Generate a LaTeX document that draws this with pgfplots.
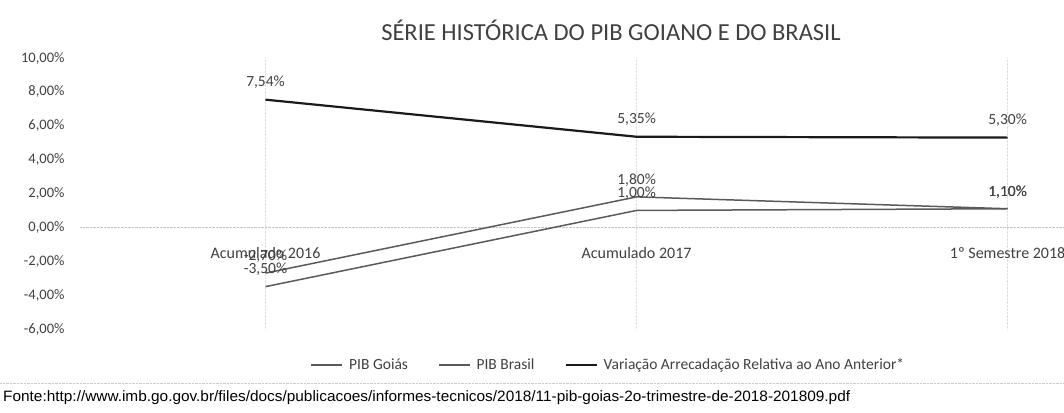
\documentclass[border=0pt]{standalone}
\usepackage{pgfplots}
\pgfplotsset{compat=1.18}
\usepackage{graphicx}
\usepackage{fontspec}
\setmainfont{Carlito}
\newfontfamily\arialfont{Liberation Sans}
\definecolor{txt}{HTML}{404040}
\definecolor{gline}{HTML}{5A5A5A}
\definecolor{bline}{HTML}{1A1A1A}
\begin{document}
\begin{tikzpicture}[x=1pt,y=1pt]
\path[use as bounding box] (0,0) rectangle (1064,412);
\begin{axis}[
  at={(80pt,83pt)}, anchor=south west,
  scale only axis, width=984pt, height=271pt,
  xmin=-0.5, xmax=2.152, ymin=-6, ymax=10,
  axis x line=middle, axis y line=left,
  x axis line style={draw=gray!45, densely dotted, -},
  y axis line style={draw=none},
  major tick length=0pt,
  xtick={0,1,2},
  xticklabels={Acumulado 2016, Acumulado 2017, 1º Semestre 2018},
  xticklabel style={font=\fontsize{16}{18}\selectfont, text=txt, anchor=north, yshift=-16pt, text height=12pt, text depth=3pt},
  ytick={-6,-4,...,10},
  yticklabel={\pgfmathprintnumber[fixed,fixed zerofill,precision=2,use comma]{\tick}\%},
  yticklabel style={font=\fontsize{14.5}{16}\selectfont, text=txt, anchor=east, xshift=-12pt},
  /pgf/number format/assume math mode=true,
  xmajorgrids, major grid style={gray!25, densely dotted},
  clip=false,
  nodes near coords={\pgfmathprintnumber[fixed,fixed zerofill,precision=2,use comma]{\pgfplotspointmeta}\%},
  every node near coord/.append style={font=\fontsize{15.5}{17}\selectfont, text=txt, anchor=south, inner sep=0pt, yshift=10pt},
  legend columns=3,
  legend style={draw=none, fill=none, at={(0.537,-0.133)}, anchor=center,
    font=\fontsize{15.5}{17}\selectfont, text=txt,
    /tikz/every odd column/.append style={column sep=4pt},
    /tikz/every even column/.append style={column sep=28pt}},
  legend image code/.code={\draw[#1] (0pt,0pt) -- (31pt,0pt);},
]
\addplot[color=gline, line width=1.5pt] coordinates {(0,-2.70) (1,1.80) (2,1.10)};
\addlegendentry{PIB Goiás}
\addplot[color=gline, line width=1.5pt] coordinates {(0,-3.50) (1,1.00) (2,1.10)};
\addlegendentry{PIB Brasil}
\addplot[color=bline, line width=2.2pt] coordinates {(0,7.54) (1,5.35) (2,5.30)};
\addlegendentry{Variação Arrecadação Relativa ao Ano Anterior*}
\end{axis}
\node[font=\fontsize{24.5}{27}\selectfont, text=txt] at (611,382) {SÉRIE HISTÓRICA DO PIB GOIANO E DO BRASIL};
\draw[gray!40, densely dotted] (0,29) -- (1064,29);
\node[anchor=base west, inner sep=0pt] at (3,11) {\resizebox{847pt}{\height}{\arialfont\fontsize{15}{17}\selectfont Fonte:http://www.imb.go.gov.br/files/docs/publicacoes/informes-tecnicos/2018/11-pib-goias-2o-trimestre-de-2018-201809.pdf}};
\end{tikzpicture}
\end{document}
